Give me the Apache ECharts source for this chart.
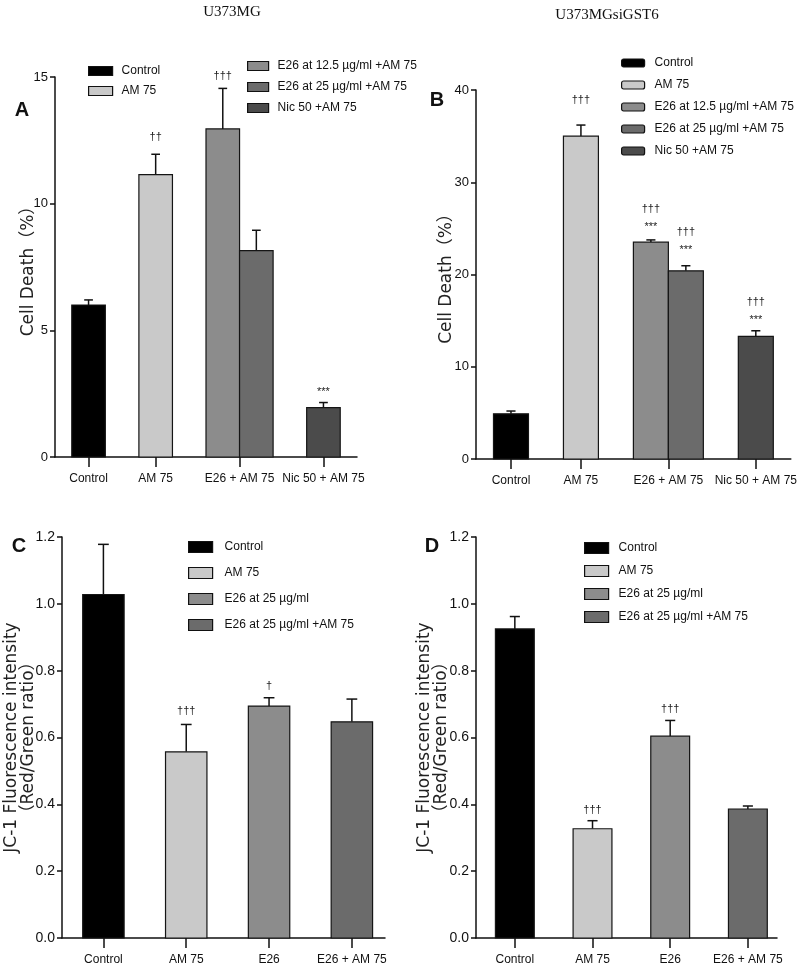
<!DOCTYPE html>
<html><head><meta charset="utf-8">
<script src="https://cdn.jsdelivr.net/npm/echarts@6/dist/echarts.min.js"></script>
<style>html,body{margin:0;padding:0;background:#fff}#c{width:800px;height:976px}</style>
</head><body><div id="c"></div>
<script>
// ---------- DATA ----------
// Panel A : U373MG, cell death (%)
const namesA   = ['Control', 'AM 75', 'E26 at 12.5 µg/ml +AM 75', 'E26 at 25 µg/ml +AM 75', 'Nic 50 +AM 75'];
const valuesA  = [6.0, 11.15, 12.95, 8.15, 1.95];
const errorsA  = [0.2, 0.8, 1.6, 0.8, 0.2];
const marksA   = ['', '††', '†††', '', '***'];
const xLabelsA = ['Control', 'AM 75', 'E26 + AM 75', 'Nic 50 + AM 75'];

// Panel B : U373MGsiGST6, cell death (%)
const namesB   = ['Control', 'AM 75', 'E26 at 12.5 µg/ml +AM 75', 'E26 at 25 µg/ml +AM 75', 'Nic 50 +AM 75'];
const valuesB  = [4.9, 35.0, 23.5, 20.4, 13.3];
const errorsB  = [0.3, 1.2, 0.25, 0.55, 0.6];
const marksB   = ['', '†††', '†††\n***', '†††\n***', '†††\n***'];
const xLabelsB = ['Control', 'AM 75', 'E26 + AM 75', 'Nic 50 + AM 75'];

// Panel C : JC-1 red/green ratio
const namesC   = ['Control', 'AM 75', 'E26 at 25 µg/ml', 'E26 at 25 µg/ml +AM 75'];
const valuesC  = [1.028, 0.557, 0.694, 0.647];
const errorsC  = [0.15, 0.082, 0.025, 0.068];
const marksC   = ['', '†††', '†', ''];
const xLabelsC = ['Control', 'AM 75', 'E26', 'E26 + AM 75'];

// Panel D : JC-1 red/green ratio (siGST6)
const namesD   = ['Control', 'AM 75', 'E26 at 25 µg/ml', 'E26 at 25 µg/ml +AM 75'];
const valuesD  = [0.925, 0.327, 0.604, 0.386];
const errorsD  = [0.037, 0.024, 0.047, 0.009];
const marksD   = ['', '†††', '†††', ''];
const xLabelsD = ['Control', 'AM 75', 'E26', 'E26 + AM 75'];

// ---------- LAYOUT / STYLE ----------
const NARROW = "'Liberation Sans Narrow','Liberation Sans',Arial,sans-serif";
const WIDE = "'DejaVu Sans','Noto Sans CJK SC',sans-serif";
const colorOf = {
  'Control': '#000000',
  'AM 75': '#c9c9c9',
  'E26 at 12.5 µg/ml +AM 75': '#8c8c8c',
  'E26 at 25 µg/ml +AM 75': '#6b6b6b',
  'Nic 50 +AM 75': '#4b4b4b',
  'E26 at 25 µg/ml': '#8c8c8c'
};
const slots5 = [0, 2, 4, 5, 7], ticks5 = [0, 2, 4.5, 7];
const slots4 = [0, 2, 4, 6], ticks4 = [0, 2, 4, 6];

const panels = [
  {grid: {left: 55, top: 77, width: 302, height: 380}, xMax: 8, yMax: 15, yInt: 5, dec: 0,
   names: namesA, values: valuesA, errors: errorsA, marks: marksA, xLabels: xLabelsA,
   slots: slots5, ticks: ticks5, markGap: [12, 17, 12, 12, 11], yFont: 13,
   yName: 'Cell Death（%）', nameGap: 17, nameLH: 18},
  {grid: {left: 476, top: 90, width: 317, height: 369}, xMax: 8, yMax: 40, yInt: 10, dec: 0,
   names: namesB, values: valuesB, errors: errorsB, marks: marksB, xLabels: xLabelsB,
   slots: slots5, ticks: ticks5, markGap: [12, 25, 13, 16, 11], yFont: 13,
   yName: 'Cell Death（%）', nameGap: 20, nameLH: 18},
  {grid: {left: 62, top: 537, width: 323, height: 401}, xMax: 6.8, yMax: 1.2, yInt: 0.2, dec: 1,
   names: namesC, values: valuesC, errors: errorsC, marks: marksC, xLabels: xLabelsC,
   slots: slots4, ticks: ticks4, markGap: [12, 13, 12, 12], yFont: 14,
   yName: 'JC-1 Fluorescence intensity\n（Red/Green ratio）', nameGap: 25, nameLH: 17},
  {grid: {left: 476, top: 537, width: 301, height: 401}, xMax: 6.75, yMax: 1.2, yInt: 0.2, dec: 1,
   names: namesD, values: valuesD, errors: errorsD, marks: marksD, xLabels: xLabelsD,
   slots: slots4, ticks: ticks4, markGap: [12, 11, 11, 12], yFont: 14,
   yName: 'JC-1 Fluorescence intensity\n（Red/Green ratio）', nameGap: 26, nameLH: 17}
];

const grids = [], xAxes = [], yAxes = [], series = [];
panels.forEach((p, pi) => {
  grids.push(Object.assign({containLabel: false}, p.grid));
  xAxes.push({
    type: 'value', gridIndex: pi, min: -1, max: p.xMax,
    axisLine: {show: true, onZero: false, lineStyle: {color: '#111', width: 1.5}},
    axisTick: {show: true, customValues: p.ticks, length: 10, lineStyle: {color: '#111', width: 1.5}},
    axisLabel: {customValues: p.ticks, formatter: v => p.xLabels[p.ticks.indexOf(v)] || '',
      fontSize: 12, color: '#111', fontFamily: NARROW, margin: 16},
    splitLine: {show: false}
  });
  yAxes.push({
    type: 'value', gridIndex: pi, min: 0, max: p.yMax, interval: p.yInt,
    axisLine: {show: true, onZero: false, lineStyle: {color: '#111', width: 1.5}},
    axisTick: {show: true, length: 5, lineStyle: {color: '#111', width: 1.5}},
    axisLabel: {formatter: v => v.toFixed(p.dec), fontSize: p.yFont, color: '#111', fontFamily: NARROW, margin: 7},
    splitLine: {show: false},
    name: p.yName, nameLocation: 'middle', nameRotate: 90, nameGap: p.nameGap, nameMoveOverlap: false,
    nameTextStyle: {fontFamily: WIDE, fontSize: 17, color: '#222', lineHeight: p.nameLH}
  });
  p.names.forEach((nm, bi) => {
    const col = colorOf[nm];
    const mark = p.marks[bi];
    const gap = p.markGap[bi];
    series.push({
      type: 'custom', name: nm, xAxisIndex: pi, yAxisIndex: pi,
      itemStyle: {color: col, borderColor: '#111', borderWidth: 1.2},
      encode: {x: 0, y: 1},
      data: [[p.slots[bi], p.values[bi], p.errors[bi]]],
      renderItem: (params, api) => {
        const x = api.value(0), y = api.value(1), e = api.value(2);
        const bl = api.coord([x - 0.5, 0]);
        const tr = api.coord([x + 0.5, y]);
        const tp = api.coord([x, y + e]);
        const w = tr[0] - bl[0];
        const cap = w * 0.13;
        const ch = [
          {type: 'line', shape: {x1: tp[0], y1: tr[1], x2: tp[0], y2: tp[1]}, style: {stroke: '#111', lineWidth: 1.5}},
          {type: 'line', shape: {x1: tp[0] - cap, y1: tp[1], x2: tp[0] + cap, y2: tp[1]}, style: {stroke: '#111', lineWidth: 1.5}},
          {type: 'rect', shape: {x: bl[0], y: tr[1], width: w, height: bl[1] - tr[1]},
           style: {fill: col, stroke: '#151515', lineWidth: 1.2}}
        ];
        if (mark) {
          const lines = mark.split('\n');
          const n = lines.length;
          lines.forEach((t, li) => {
            ch.push({type: 'text', x: tp[0], y: tp[1] - gap - (n - 1 - li) * 18,
              style: {text: t, fill: '#222', font: '11px ' + NARROW,
                align: 'center', verticalAlign: 'middle'}});
          });
        }
        return {type: 'group', children: ch};
      }
    });
  });
});

const legendBase = {orient: 'vertical', selectedMode: false, icon: 'rect', padding: 0,
  itemStyle: {borderColor: '#111', borderWidth: 1.2}};
const lg = (o, pad) => Object.assign({}, legendBase, o,
  {textStyle: {fontSize: 12, fontFamily: NARROW, color: '#111', lineHeight: 14, padding: [0, 0, 0, pad]}});

const legends = [
  lg({left: 88, top: 64, data: namesA.slice(0, 2), itemWidth: 24, itemHeight: 9, itemGap: 6}, 4),
  lg({left: 247, top: 59, data: namesA.slice(2), itemWidth: 21, itemHeight: 9, itemGap: 7}, 4),
  lg({left: 621, top: 56, data: namesB, itemWidth: 23, itemHeight: 8, itemGap: 8, icon: 'roundRect'}, 5),
  lg({left: 188, top: 540, data: namesC, itemWidth: 24, itemHeight: 11, itemGap: 12}, 7),
  lg({left: 584, top: 541, data: namesD, itemWidth: 24, itemHeight: 11, itemGap: 9}, 5)
];

const txt = (x, y, t, font) => ({type: 'text', x: x, y: y,
  style: {text: t, font: font, fill: '#111', align: 'center', verticalAlign: 'middle'}});

const chart = echarts.init(document.getElementById('c'), null, {renderer: 'canvas'});
chart.setOption({
  animation: false,
  backgroundColor: '#fff',
  grid: grids, xAxis: xAxes, yAxis: yAxes, legend: legends, series: series,
  graphic: [
    txt(232, 12, 'U373MG', "15px 'Liberation Serif','DejaVu Serif',serif"),
    txt(607, 15, 'U373MGsiGST6', "15px 'Liberation Serif','DejaVu Serif',serif"),
    txt(22, 110, 'A', "bold 20px 'Liberation Sans',Arial,sans-serif"),
    txt(437, 100, 'B', "bold 20px 'Liberation Sans',Arial,sans-serif"),
    txt(19, 546, 'C', "bold 20px 'Liberation Sans',Arial,sans-serif"),
    txt(432, 546, 'D', "bold 20px 'Liberation Sans',Arial,sans-serif")
  ]
});
</script></body></html>
